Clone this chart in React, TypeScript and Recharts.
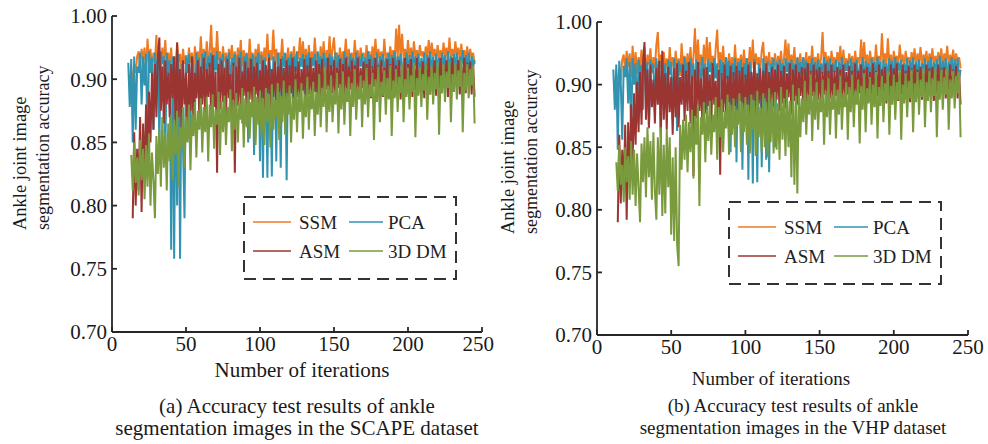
import React from 'react';
import { LineChart, Line, XAxis, YAxis, Legend, Label } from 'recharts';

// x categories: iteration numbers 11..245
const iterations: number[] = Array.from({ length: 235 }, (_, i) => i + 11);

const xTicks = [0, 50, 100, 150, 200, 250];
const yTicks = [0.7, 0.75, 0.8, 0.85, 0.9, 0.95];
const yTickLabels = ['0.70', '0.75', '0.80', '0.85', '0.90', '1.00'];

const seriesNames = ['SSM', 'PCA', 'ASM', '3D DM'];
const seriesKeys = ['ssm', 'pca', 'asm', 'dm'];
const seriesColors = ['#EE7A22', '#3193B0', '#9A3532', '#7A9A3E'];

// ---------- (a) SCAPE ----------
const ssmScape = [
  null, null, 0.880, 0.902, 0.912, 0.905, 0.918, 0.922, 0.910, 0.924,
  0.915, 0.925, 0.905, 0.932, 0.912, 0.924, 0.908, 0.921, 0.913, 0.935,
  0.910, 0.922, 0.906, 0.925, 0.915, 0.931, 0.908, 0.921, 0.912, 0.925,
  0.905, 0.918, 0.910, 0.929, 0.914, 0.920, 0.907, 0.924, 0.912, 0.919,
  0.909, 0.925, 0.913, 0.921, 0.906, 0.926, 0.915, 0.922, 0.910, 0.934,
  0.912, 0.924, 0.908, 0.930, 0.915, 0.921, 0.943, 0.910, 0.925, 0.913,
  0.938, 0.915, 0.922, 0.908, 0.926, 0.914, 0.921, 0.909, 0.924, 0.916,
  0.927, 0.911, 0.922, 0.908, 0.925, 0.913, 0.931, 0.910, 0.923, 0.916,
  0.920, 0.908, 0.932, 0.914, 0.921, 0.909, 0.924, 0.915, 0.928, 0.912,
  0.922, 0.911, 0.925, 0.914, 0.936, 0.910, 0.923, 0.915, 0.939, 0.912,
  0.924, 0.909, 0.921, 0.915, 0.932, 0.911, 0.920, 0.913, 0.925, 0.908,
  0.922, 0.914, 0.926, 0.910, 0.921, 0.916, 0.933, 0.912, 0.930, 0.914,
  0.924, 0.909, 0.927, 0.913, 0.922, 0.910, 0.933, 0.916, 0.921, 0.911,
  0.926, 0.913, 0.930, 0.910, 0.923, 0.915, 0.934, 0.912, 0.924, 0.933,
  0.914, 0.921, 0.910, 0.925, 0.913, 0.922, 0.916, 0.932, 0.911, 0.924,
  0.914, 0.921, 0.909, 0.931, 0.915, 0.923, 0.912, 0.925, 0.916, 0.921,
  0.911, 0.927, 0.914, 0.922, 0.910, 0.926, 0.915, 0.932, 0.913, 0.924,
  0.916, 0.922, 0.912, 0.932, 0.915, 0.921, 0.913, 0.926, 0.917, 0.923,
  0.914, 0.940, 0.916, 0.943, 0.915, 0.936, 0.917, 0.924, 0.914, 0.931,
  0.916, 0.925, 0.913, 0.930, 0.917, 0.923, 0.915, 0.927, 0.918, 0.922,
  0.914, 0.926, 0.917, 0.931, 0.915, 0.929, 0.918, 0.924, 0.914, 0.927,
  0.917, 0.923, 0.915, 0.929, 0.918, 0.925, 0.914, 0.933, 0.917, 0.924,
  0.916, 0.930, 0.918, 0.925, 0.915, 0.928, 0.917, 0.923, 0.916, 0.926,
  0.915, 0.924, 0.917, 0.921, 0.912,
];

const pcaScape = [
  0.913, 0.878, 0.916, 0.850, 0.918, 0.860, 0.910, 0.905, 0.921, 0.880,
  0.918, 0.895, 0.920, 0.845, 0.922, 0.905, 0.917, 0.860, 0.921, 0.900,
  0.919, 0.850, 0.922, 0.912, 0.918, 0.840, 0.921, 0.905, 0.915, 0.765,
  0.918, 0.758, 0.910, 0.800, 0.920, 0.758, 0.912, 0.845, 0.790, 0.918,
  0.905, 0.920, 0.860, 0.918, 0.912, 0.870, 0.921, 0.906, 0.917, 0.880,
  0.920, 0.908, 0.922, 0.895, 0.918, 0.910, 0.921, 0.885, 0.919, 0.907,
  0.922, 0.890, 0.917, 0.910, 0.920, 0.872, 0.918, 0.905, 0.921, 0.893,
  0.917, 0.911, 0.920, 0.880, 0.919, 0.906, 0.922, 0.865, 0.918, 0.909,
  0.921, 0.850, 0.917, 0.905, 0.920, 0.840, 0.918, 0.907, 0.921, 0.835,
  0.919, 0.822, 0.917, 0.908, 0.822, 0.920, 0.905, 0.823, 0.918, 0.910,
  0.835, 0.921, 0.906, 0.830, 0.918, 0.910, 0.921, 0.820, 0.917, 0.908,
  0.920, 0.885, 0.918, 0.906, 0.922, 0.895, 0.917, 0.910, 0.920, 0.888,
  0.919, 0.907, 0.921, 0.898, 0.917, 0.911, 0.920, 0.890, 0.922, 0.906,
  0.918, 0.900, 0.921, 0.909, 0.917, 0.893, 0.920, 0.910, 0.918, 0.902,
  0.921, 0.897, 0.919, 0.911, 0.917, 0.899, 0.922, 0.906, 0.918, 0.895,
  0.920, 0.909, 0.917, 0.902, 0.921, 0.897, 0.918, 0.910, 0.920, 0.900,
  0.917, 0.906, 0.922, 0.894, 0.919, 0.909, 0.917, 0.901, 0.921, 0.896,
  0.918, 0.910, 0.920, 0.903, 0.917, 0.898, 0.921, 0.908, 0.919, 0.900,
  0.922, 0.904, 0.918, 0.911, 0.920, 0.897, 0.917, 0.909, 0.921, 0.903,
  0.919, 0.899, 0.922, 0.907, 0.918, 0.910, 0.920, 0.902, 0.917, 0.905,
  0.921, 0.898, 0.919, 0.910, 0.922, 0.904, 0.918, 0.900, 0.920, 0.908,
  0.917, 0.903, 0.921, 0.911, 0.919, 0.899, 0.922, 0.906, 0.918, 0.904,
  0.920, 0.909, 0.921, 0.902, 0.918, 0.911, 0.923, 0.905, 0.919, 0.907,
  0.921, 0.903, 0.918, 0.910, 0.915,
];

const asmScape = [
  null, null, null, 0.790, 0.858, 0.800, 0.845, 0.812, 0.870, 0.795,
  0.865, 0.820, 0.880, 0.835, 0.890, 0.850, 0.905, 0.860, 0.912, 0.870,
  0.918, 0.933, 0.875, 0.910, 0.865, 0.915, 0.880, 0.905, 0.870, 0.912,
  0.885, 0.918, 0.860, 0.929, 0.870, 0.908, 0.862, 0.915, 0.880, 0.905,
  0.858, 0.912, 0.875, 0.918, 0.865, 0.905, 0.885, 0.915, 0.870, 0.910,
  0.880, 0.917, 0.868, 0.908, 0.886, 0.913, 0.872, 0.919, 0.878, 0.906,
  0.826, 0.912, 0.876, 0.915, 0.882, 0.909, 0.868, 0.916, 0.885, 0.904,
  0.870, 0.913, 0.826, 0.910, 0.879, 0.917, 0.873, 0.906, 0.887, 0.914,
  0.872, 0.909, 0.884, 0.916, 0.875, 0.910, 0.888, 0.913, 0.870, 0.907,
  0.885, 0.915, 0.877, 0.911, 0.889, 0.917, 0.874, 0.908, 0.886, 0.914,
  0.880, 0.910, 0.890, 0.916, 0.876, 0.909, 0.887, 0.915, 0.881, 0.911,
  0.889, 0.917, 0.878, 0.910, 0.886, 0.914, 0.880, 0.908, 0.891, 0.916,
  0.877, 0.911, 0.888, 0.917, 0.883, 0.909, 0.890, 0.915, 0.879, 0.912,
  0.887, 0.916, 0.882, 0.910, 0.892, 0.917, 0.880, 0.911, 0.889, 0.915,
  0.884, 0.909, 0.893, 0.916, 0.881, 0.912, 0.888, 0.917, 0.885, 0.910,
  0.892, 0.915, 0.882, 0.911, 0.890, 0.917, 0.886, 0.909, 0.893, 0.914,
  0.883, 0.912, 0.889, 0.916, 0.885, 0.910, 0.894, 0.917, 0.884, 0.911,
  0.891, 0.915, 0.886, 0.909, 0.893, 0.916, 0.885, 0.912, 0.890, 0.917,
  0.887, 0.911, 0.895, 0.915, 0.884, 0.910, 0.892, 0.917, 0.888, 0.912,
  0.894, 0.916, 0.886, 0.911, 0.891, 0.917, 0.889, 0.910, 0.895, 0.914,
  0.885, 0.912, 0.892, 0.917, 0.888, 0.911, 0.896, 0.915, 0.887, 0.910,
  0.893, 0.917, 0.889, 0.912, 0.895, 0.915, 0.886, 0.911, 0.894, 0.917,
  0.890, 0.912, 0.896, 0.915, 0.888, 0.910, 0.893, 0.917, 0.889, 0.913,
  0.895, 0.914, 0.888, 0.911, 0.886,
];

const dmScape = [
  null, null, 0.840, 0.812, 0.850, 0.818, 0.838, 0.808, 0.852, 0.820,
  0.845, 0.805, 0.848, 0.815, 0.857, 0.800, 0.842, 0.820, 0.790, 0.855,
  0.825, 0.860, 0.815, 0.870, 0.830, 0.858, 0.812, 0.865, 0.835, 0.872,
  0.820, 0.868, 0.840, 0.875, 0.815, 0.862, 0.845, 0.878, 0.830, 0.870,
  0.850, 0.880, 0.828, 0.872, 0.855, 0.882, 0.838, 0.875, 0.860, 0.885,
  0.842, 0.878, 0.858, 0.886, 0.835, 0.880, 0.862, 0.888, 0.845, 0.876,
  0.864, 0.890, 0.840, 0.883, 0.858, 0.887, 0.848, 0.878, 0.866, 0.892,
  0.843, 0.884, 0.860, 0.889, 0.850, 0.881, 0.868, 0.893, 0.846, 0.885,
  0.862, 0.890, 0.853, 0.882, 0.870, 0.894, 0.848, 0.886, 0.864, 0.891,
  0.855, 0.885, 0.848, 0.893, 0.866, 0.888, 0.846, 0.896, 0.860, 0.884,
  0.870, 0.897, 0.852, 0.887, 0.866, 0.899, 0.856, 0.889, 0.872, 0.895,
  0.850, 0.886, 0.868, 0.900, 0.858, 0.890, 0.874, 0.897, 0.853, 0.888,
  0.870, 0.902, 0.860, 0.892, 0.876, 0.898, 0.855, 0.890, 0.872, 0.904,
  0.862, 0.893, 0.878, 0.910, 0.858, 0.895, 0.874, 0.903, 0.866, 0.891,
  0.880, 0.905, 0.857, 0.896, 0.876, 0.906, 0.864, 0.893, 0.882, 0.902,
  0.855, 0.897, 0.878, 0.908, 0.868, 0.894, 0.884, 0.903, 0.862, 0.899,
  0.880, 0.909, 0.870, 0.896, 0.886, 0.905, 0.852, 0.900, 0.882, 0.910,
  0.866, 0.898, 0.887, 0.907, 0.872, 0.901, 0.884, 0.911, 0.855, 0.899,
  0.885, 0.908, 0.874, 0.902, 0.889, 0.912, 0.866, 0.900, 0.886, 0.909,
  0.876, 0.903, 0.890, 0.913, 0.854, 0.901, 0.887, 0.910, 0.878, 0.904,
  0.891, 0.913, 0.868, 0.902, 0.888, 0.911, 0.880, 0.905, 0.892, 0.914,
  0.856, 0.903, 0.889, 0.912, 0.882, 0.906, 0.893, 0.914, 0.866, 0.904,
  0.890, 0.913, 0.884, 0.907, 0.894, 0.915, 0.858, 0.905, 0.891, 0.912,
  0.885, 0.908, 0.895, 0.911, 0.865,
];

// ---------- (b) VHP ----------
const ssmVhp = [
  null, null, 0.885, 0.905, 0.913, 0.903, 0.920, 0.924, 0.911, 0.927,
  0.914, 0.925, 0.906, 0.931, 0.911, 0.926, 0.909, 0.922, 0.914, 0.928,
  0.911, 0.930, 0.907, 0.924, 0.916, 0.929, 0.909, 0.922, 0.913, 0.932,
  0.942, 0.912, 0.924, 0.909, 0.926, 0.913, 0.921, 0.908, 0.930, 0.914,
  0.922, 0.910, 0.927, 0.913, 0.921, 0.907, 0.933, 0.915, 0.923, 0.911,
  0.925, 0.913, 0.930, 0.909, 0.922, 0.945, 0.912, 0.936, 0.914, 0.924,
  0.910, 0.932, 0.915, 0.938, 0.911, 0.934, 0.916, 0.923, 0.910, 0.929,
  0.944, 0.913, 0.926, 0.915, 0.931, 0.912, 0.921, 0.909, 0.925, 0.914,
  0.922, 0.910, 0.932, 0.913, 0.921, 0.916, 0.924, 0.911, 0.928, 0.914,
  0.921, 0.912, 0.930, 0.913, 0.936, 0.910, 0.925, 0.916, 0.922, 0.911,
  0.927, 0.934, 0.912, 0.923, 0.915, 0.926, 0.910, 0.922, 0.914, 0.925,
  0.911, 0.923, 0.916, 0.927, 0.912, 0.921, 0.936, 0.914, 0.933, 0.912,
  0.924, 0.915, 0.930, 0.911, 0.922, 0.916, 0.925, 0.912, 0.921, 0.914,
  0.926, 0.911, 0.923, 0.915, 0.931, 0.912, 0.922, 0.916, 0.925, 0.913,
  0.921, 0.942, 0.914, 0.926, 0.915, 0.923, 0.912, 0.927, 0.916, 0.922,
  0.913, 0.926, 0.917, 0.931, 0.911, 0.928, 0.915, 0.921, 0.914, 0.925,
  0.916, 0.923, 0.912, 0.927, 0.915, 0.922, 0.917, 0.936, 0.914, 0.934,
  0.916, 0.924, 0.913, 0.927, 0.917, 0.922, 0.914, 0.932, 0.916, 0.923,
  0.915, 0.941, 0.917, 0.925, 0.914, 0.937, 0.916, 0.924, 0.913, 0.927,
  0.917, 0.923, 0.915, 0.932, 0.918, 0.924, 0.914, 0.927, 0.917, 0.922,
  0.915, 0.926, 0.918, 0.929, 0.914, 0.925, 0.917, 0.930, 0.915, 0.924,
  0.918, 0.927, 0.914, 0.925, 0.917, 0.929, 0.915, 0.923, 0.918, 0.926,
  0.916, 0.929, 0.914, 0.925, 0.918, 0.931, 0.915, 0.924, 0.917, 0.928,
  0.916, 0.925, 0.918, 0.922, 0.913,
];

const pcaVhp = [
  0.912, 0.880, 0.916, 0.848, 0.919, 0.902, 0.856, 0.915, 0.906, 0.921,
  0.885, 0.918, 0.862, 0.921, 0.900, 0.917, 0.870, 0.920, 0.908, 0.916,
  0.880, 0.922, 0.905, 0.918, 0.865, 0.920, 0.910, 0.917, 0.878, 0.921,
  0.906, 0.919, 0.860, 0.922, 0.901, 0.917, 0.884, 0.920, 0.908, 0.918,
  0.872, 0.921, 0.905, 0.863, 0.919, 0.910, 0.917, 0.888, 0.922, 0.904,
  0.918, 0.893, 0.921, 0.907, 0.917, 0.881, 0.920, 0.909, 0.918, 0.895,
  0.922, 0.906, 0.917, 0.876, 0.920, 0.910, 0.918, 0.890, 0.921, 0.905,
  0.917, 0.868, 0.920, 0.908, 0.918, 0.885, 0.922, 0.904, 0.919, 0.846,
  0.917, 0.907, 0.921, 0.838, 0.918, 0.910, 0.920, 0.832, 0.917, 0.906,
  0.921, 0.824, 0.918, 0.908, 0.821, 0.920, 0.905, 0.822, 0.917, 0.910,
  0.834, 0.921, 0.907, 0.840, 0.919, 0.830, 0.917, 0.909, 0.921, 0.850,
  0.918, 0.897, 0.920, 0.908, 0.917, 0.888, 0.921, 0.910, 0.918, 0.895,
  0.920, 0.906, 0.917, 0.890, 0.921, 0.909, 0.918, 0.899, 0.922, 0.905,
  0.919, 0.895, 0.917, 0.910, 0.921, 0.901, 0.918, 0.907, 0.920, 0.893,
  0.917, 0.909, 0.922, 0.898, 0.919, 0.906, 0.921, 0.902, 0.917, 0.910,
  0.920, 0.896, 0.918, 0.908, 0.922, 0.900, 0.917, 0.911, 0.919, 0.897,
  0.921, 0.905, 0.918, 0.909, 0.920, 0.894, 0.917, 0.907, 0.922, 0.901,
  0.919, 0.910, 0.917, 0.898, 0.921, 0.906, 0.918, 0.903, 0.922, 0.909,
  0.918, 0.897, 0.920, 0.908, 0.917, 0.902, 0.921, 0.910, 0.919, 0.899,
  0.922, 0.906, 0.918, 0.911, 0.920, 0.896, 0.917, 0.908, 0.921, 0.903,
  0.919, 0.910, 0.922, 0.899, 0.918, 0.907, 0.920, 0.904, 0.917, 0.911,
  0.921, 0.898, 0.919, 0.909, 0.922, 0.903, 0.918, 0.910, 0.920, 0.900,
  0.923, 0.907, 0.919, 0.911, 0.921, 0.902, 0.918, 0.909, 0.922, 0.905,
  0.920, 0.908, 0.921, 0.904, 0.912,
];

const asmVhp = [
  null, null, null, 0.790, 0.860, 0.805, 0.848, 0.815, 0.868, 0.792,
  0.870, 0.825, 0.884, 0.838, 0.893, 0.852, 0.902, 0.862, 0.910, 0.868,
  0.917, 0.934, 0.872, 0.912, 0.866, 0.916, 0.882, 0.904, 0.869, 0.913,
  0.884, 0.919, 0.858, 0.927, 0.872, 0.909, 0.864, 0.914, 0.878, 0.906,
  0.860, 0.913, 0.874, 0.917, 0.866, 0.906, 0.884, 0.916, 0.871, 0.911,
  0.879, 0.918, 0.869, 0.907, 0.827, 0.912, 0.873, 0.918, 0.879, 0.905,
  0.868, 0.913, 0.877, 0.914, 0.883, 0.908, 0.866, 0.917, 0.884, 0.903,
  0.871, 0.912, 0.828, 0.909, 0.878, 0.916, 0.874, 0.907, 0.886, 0.915,
  0.873, 0.910, 0.883, 0.915, 0.876, 0.911, 0.887, 0.914, 0.871, 0.908,
  0.884, 0.916, 0.878, 0.910, 0.888, 0.918, 0.875, 0.909, 0.885, 0.913,
  0.881, 0.911, 0.889, 0.917, 0.877, 0.910, 0.886, 0.914, 0.882, 0.912,
  0.888, 0.916, 0.879, 0.911, 0.885, 0.915, 0.881, 0.909, 0.890, 0.917,
  0.876, 0.912, 0.887, 0.916, 0.884, 0.910, 0.891, 0.914, 0.880, 0.913,
  0.886, 0.917, 0.883, 0.911, 0.891, 0.916, 0.881, 0.912, 0.888, 0.914,
  0.885, 0.910, 0.892, 0.917, 0.882, 0.911, 0.889, 0.916, 0.884, 0.911,
  0.891, 0.914, 0.883, 0.912, 0.889, 0.916, 0.887, 0.910, 0.892, 0.915,
  0.884, 0.911, 0.890, 0.917, 0.886, 0.911, 0.893, 0.916, 0.885, 0.912,
  0.890, 0.914, 0.887, 0.910, 0.892, 0.917, 0.886, 0.911, 0.891, 0.916,
  0.888, 0.912, 0.894, 0.914, 0.885, 0.911, 0.891, 0.916, 0.889, 0.913,
  0.893, 0.917, 0.887, 0.910, 0.892, 0.916, 0.890, 0.911, 0.894, 0.915,
  0.886, 0.913, 0.891, 0.916, 0.889, 0.912, 0.895, 0.914, 0.888, 0.911,
  0.892, 0.916, 0.890, 0.913, 0.894, 0.914, 0.887, 0.912, 0.893, 0.916,
  0.891, 0.913, 0.895, 0.914, 0.889, 0.911, 0.892, 0.916, 0.890, 0.912,
  0.894, 0.915, 0.889, 0.910, 0.884,
];

const dmVhp = [
  null, null, 0.838, 0.815, 0.852, 0.820, 0.836, 0.806, 0.850, 0.822,
  0.843, 0.808, 0.855, 0.812, 0.848, 0.803, 0.845, 0.818, 0.790, 0.853,
  0.822, 0.858, 0.810, 0.866, 0.826, 0.855, 0.808, 0.862, 0.815, 0.792,
  0.858, 0.812, 0.866, 0.795, 0.852, 0.797, 0.864, 0.818, 0.858, 0.780,
  0.842, 0.775, 0.850, 0.772, 0.755, 0.868, 0.832, 0.872, 0.840, 0.876,
  0.830, 0.870, 0.846, 0.880, 0.825, 0.875, 0.852, 0.884, 0.803, 0.874,
  0.860, 0.886, 0.838, 0.880, 0.855, 0.887, 0.844, 0.876, 0.862, 0.890,
  0.840, 0.882, 0.858, 0.888, 0.846, 0.879, 0.865, 0.892, 0.844, 0.884,
  0.860, 0.889, 0.850, 0.880, 0.868, 0.893, 0.846, 0.885, 0.862, 0.890,
  0.852, 0.884, 0.845, 0.892, 0.864, 0.887, 0.843, 0.895, 0.858, 0.882,
  0.846, 0.893, 0.850, 0.886, 0.842, 0.897, 0.854, 0.888, 0.845, 0.894,
  0.848, 0.885, 0.840, 0.898, 0.856, 0.889, 0.843, 0.896, 0.850, 0.887,
  0.826, 0.900, 0.820, 0.891, 0.813, 0.897, 0.858, 0.889, 0.870, 0.903,
  0.860, 0.892, 0.876, 0.908, 0.855, 0.894, 0.872, 0.902, 0.864, 0.890,
  0.878, 0.904, 0.852, 0.895, 0.874, 0.905, 0.860, 0.892, 0.880, 0.901,
  0.857, 0.896, 0.876, 0.907, 0.864, 0.893, 0.882, 0.902, 0.856, 0.898,
  0.878, 0.908, 0.866, 0.895, 0.884, 0.904, 0.853, 0.899, 0.880, 0.909,
  0.862, 0.897, 0.885, 0.906, 0.868, 0.900, 0.882, 0.910, 0.857, 0.898,
  0.883, 0.907, 0.870, 0.901, 0.887, 0.911, 0.860, 0.899, 0.884, 0.908,
  0.872, 0.902, 0.888, 0.912, 0.856, 0.900, 0.885, 0.909, 0.874, 0.903,
  0.889, 0.912, 0.862, 0.901, 0.886, 0.910, 0.876, 0.904, 0.890, 0.913,
  0.866, 0.902, 0.887, 0.911, 0.878, 0.905, 0.891, 0.913, 0.858, 0.903,
  0.888, 0.912, 0.880, 0.906, 0.892, 0.914, 0.864, 0.904, 0.889, 0.911,
  0.881, 0.907, 0.893, 0.910, 0.858,
];

const FONT = '"Liberation Serif", "Times New Roman", Times, serif';
const AXIS_COLOR = '#262626';

type Vals = (number | null)[];

function buildRows(ssm: Vals, pca: Vals, asm: Vals, dm: Vals) {
  return iterations.map((it, i) => ({ iter: it, ssm: ssm[i], pca: pca[i], asm: asm[i], dm: dm[i] }));
}

const scapeRows = buildRows(ssmScape, pcaScape, asmScape, dmScape);
const vhpRows = buildRows(ssmVhp, pcaVhp, asmVhp, dmVhp);

type PanelCfg = {
  rows: any[];
  left: number;
  margin: { top: number; right: number; bottom: number; left: number };
  legendX: number;
  legendY: number;
  yLab1X: number;
  yLab2X: number;
  yLabY: number;
  titleX: number;
  titleY: number;
  titleSize: number;
  capX: number;
  capY1: number;
  capY2: number;
  caption1: string;
  caption2: string;
};

const LegendBox = (props: any) => {
  const raw = (props.payload || []) as any[];
  const payload = [...raw].sort(
    (a, b) => seriesNames.indexOf(String(a.value)) - seriesNames.indexOf(String(b.value))
  );
  return (
    <svg width={215} height={85} style={{ display: 'block', overflow: 'visible' }}>
      <rect x={1} y={1} width={212} height={82} fill="none" stroke="#333" strokeWidth={2} strokeDasharray="12 7" />
      {payload.map((p, i) => {
        const col = i % 2;
        const row = Math.floor(i / 2);
        const lx = col === 0 ? 10 : 106;
        const lw = col === 0 ? 38 : 34;
        const tx = col === 0 ? 56 : 145;
        const ly = row === 0 ? 26 : 55;
        return (
          <g key={i}>
            <line x1={lx} x2={lx + lw} y1={ly} y2={ly} stroke={p.color} strokeOpacity={0.75} strokeWidth={2.2} />
            <text x={tx} y={ly + 6.5} fontSize={19} fontFamily={FONT} fill="#222">
              {p.value}
            </text>
          </g>
        );
      })}
    </svg>
  );
};

function Panel(cfg: PanelCfg) {
  const W = 494;
  const H = 444;
  return (
    <div style={{ position: 'absolute', left: cfg.left, top: 0, width: W, height: H }}>
      <LineChart width={W} height={H} data={cfg.rows} margin={cfg.margin} style={{ fontFamily: FONT }}>
        <XAxis
          dataKey="iter"
          type="number"
          domain={[0, 250]}
          ticks={xTicks}
          allowDataOverflow
          tickSize={-5}
          tickMargin={9}
          stroke={AXIS_COLOR}
          strokeWidth={1.8}
          tick={{ fontSize: 21, fill: '#1a1a1a', fontFamily: FONT }}
          height={30}
        >
          <Label
            content={() => (
              <g fontFamily={FONT} fill="#1a1a1a">
                <text x={cfg.titleX} y={cfg.titleY} textAnchor="middle" fontSize={cfg.titleSize}>
                  Number of iterations
                </text>
                <text x={cfg.capX} y={cfg.capY1} textAnchor="middle" fontSize={cfg.titleSize}>
                  {cfg.caption1}
                </text>
                <text x={cfg.capX} y={cfg.capY2} textAnchor="middle" fontSize={cfg.titleSize}>
                  {cfg.caption2}
                </text>
              </g>
            )}
          />
        </XAxis>
        <XAxis
          xAxisId="top"
          dataKey="iter"
          type="number"
          orientation="top"
          domain={[0, 250]}
          ticks={xTicks}
          allowDataOverflow
          tickSize={-5}
          tick={false}
          stroke={AXIS_COLOR}
          strokeWidth={1.8}
          height={0}
        />
        <YAxis
          type="number"
          domain={[0.7, 0.95]}
          ticks={yTicks}
          allowDataOverflow
          interval={0}
          tickSize={-5}
          tickMargin={10}
          width={60}
          stroke={AXIS_COLOR}
          strokeWidth={1.8}
          tick={{ fontSize: 21, fill: '#1a1a1a', fontFamily: FONT }}
          tickFormatter={(v: number) => {
            const idx = yTicks.findIndex((t) => Math.abs(t - v) < 1e-6);
            return idx >= 0 ? yTickLabels[idx] : String(v);
          }}
        >
          <Label
            content={() => (
              <g fontFamily={FONT} fill="#1a1a1a">
                <text transform={`translate(${cfg.yLab1X}, ${cfg.yLabY}) rotate(-90)`} fontSize={18.5}>
                  Ankle joint image
                </text>
                <text transform={`translate(${cfg.yLab2X}, ${cfg.yLabY}) rotate(-90)`} fontSize={18}>
                  segmentation accuracy
                </text>
              </g>
            )}
          />
        </YAxis>
        <YAxis
          yAxisId="right"
          orientation="right"
          type="number"
          domain={[0.7, 0.95]}
          ticks={yTicks}
          allowDataOverflow
          tickSize={-5}
          tick={false}
          width={0}
          stroke={AXIS_COLOR}
          strokeWidth={1.8}
        />
        {seriesKeys.map((k, i) => (
          <Line
            key={k}
            dataKey={k}
            name={seriesNames[i]}
            type="linear"
            stroke={seriesColors[i]}
            strokeWidth={2}
            dot={false}
            activeDot={false}
            isAnimationActive={false}
            connectNulls={false}
          />
        ))}
        <Legend
          layout="horizontal"
          verticalAlign="middle"
          align="center"
          content={<LegendBox />}
          wrapperStyle={{ position: 'absolute', left: cfg.legendX, top: cfg.legendY, width: 215, height: 85 }}
        />
      </LineChart>
    </div>
  );
}

export default function App() {
  return (
    <div style={{ position: 'absolute', left: 0, top: 0, width: 988, height: 444, background: '#fff', fontFamily: FONT }}>
      <Panel
        rows={scapeRows}
        left={0}
        margin={{ top: 16, right: 12, bottom: 82, left: 52 }}
        legendX={243}
        legendY={196}
        yLab1X={26}
        yLab2X={49}
        yLabY={230}
        titleX={302}
        titleY={377}
        titleSize={21}
        capX={297}
        capY1={413}
        capY2={435}
        caption1="(a) Accuracy test results of ankle"
        caption2="segmentation images in the SCAPE dataset"
      />
      <Panel
        rows={vhpRows}
        left={494}
        margin={{ top: 22, right: 20, bottom: 79, left: 43 }}
        legendX={234}
        legendY={201}
        yLab1X={20}
        yLab2X={43}
        yLabY={234}
        titleX={277}
        titleY={385}
        titleSize={19}
        capX={299}
        capY1={412}
        capY2={434}
        caption1="(b) Accuracy test results of ankle"
        caption2="segmentation images in the VHP dataset"
      />
    </div>
  );
}
